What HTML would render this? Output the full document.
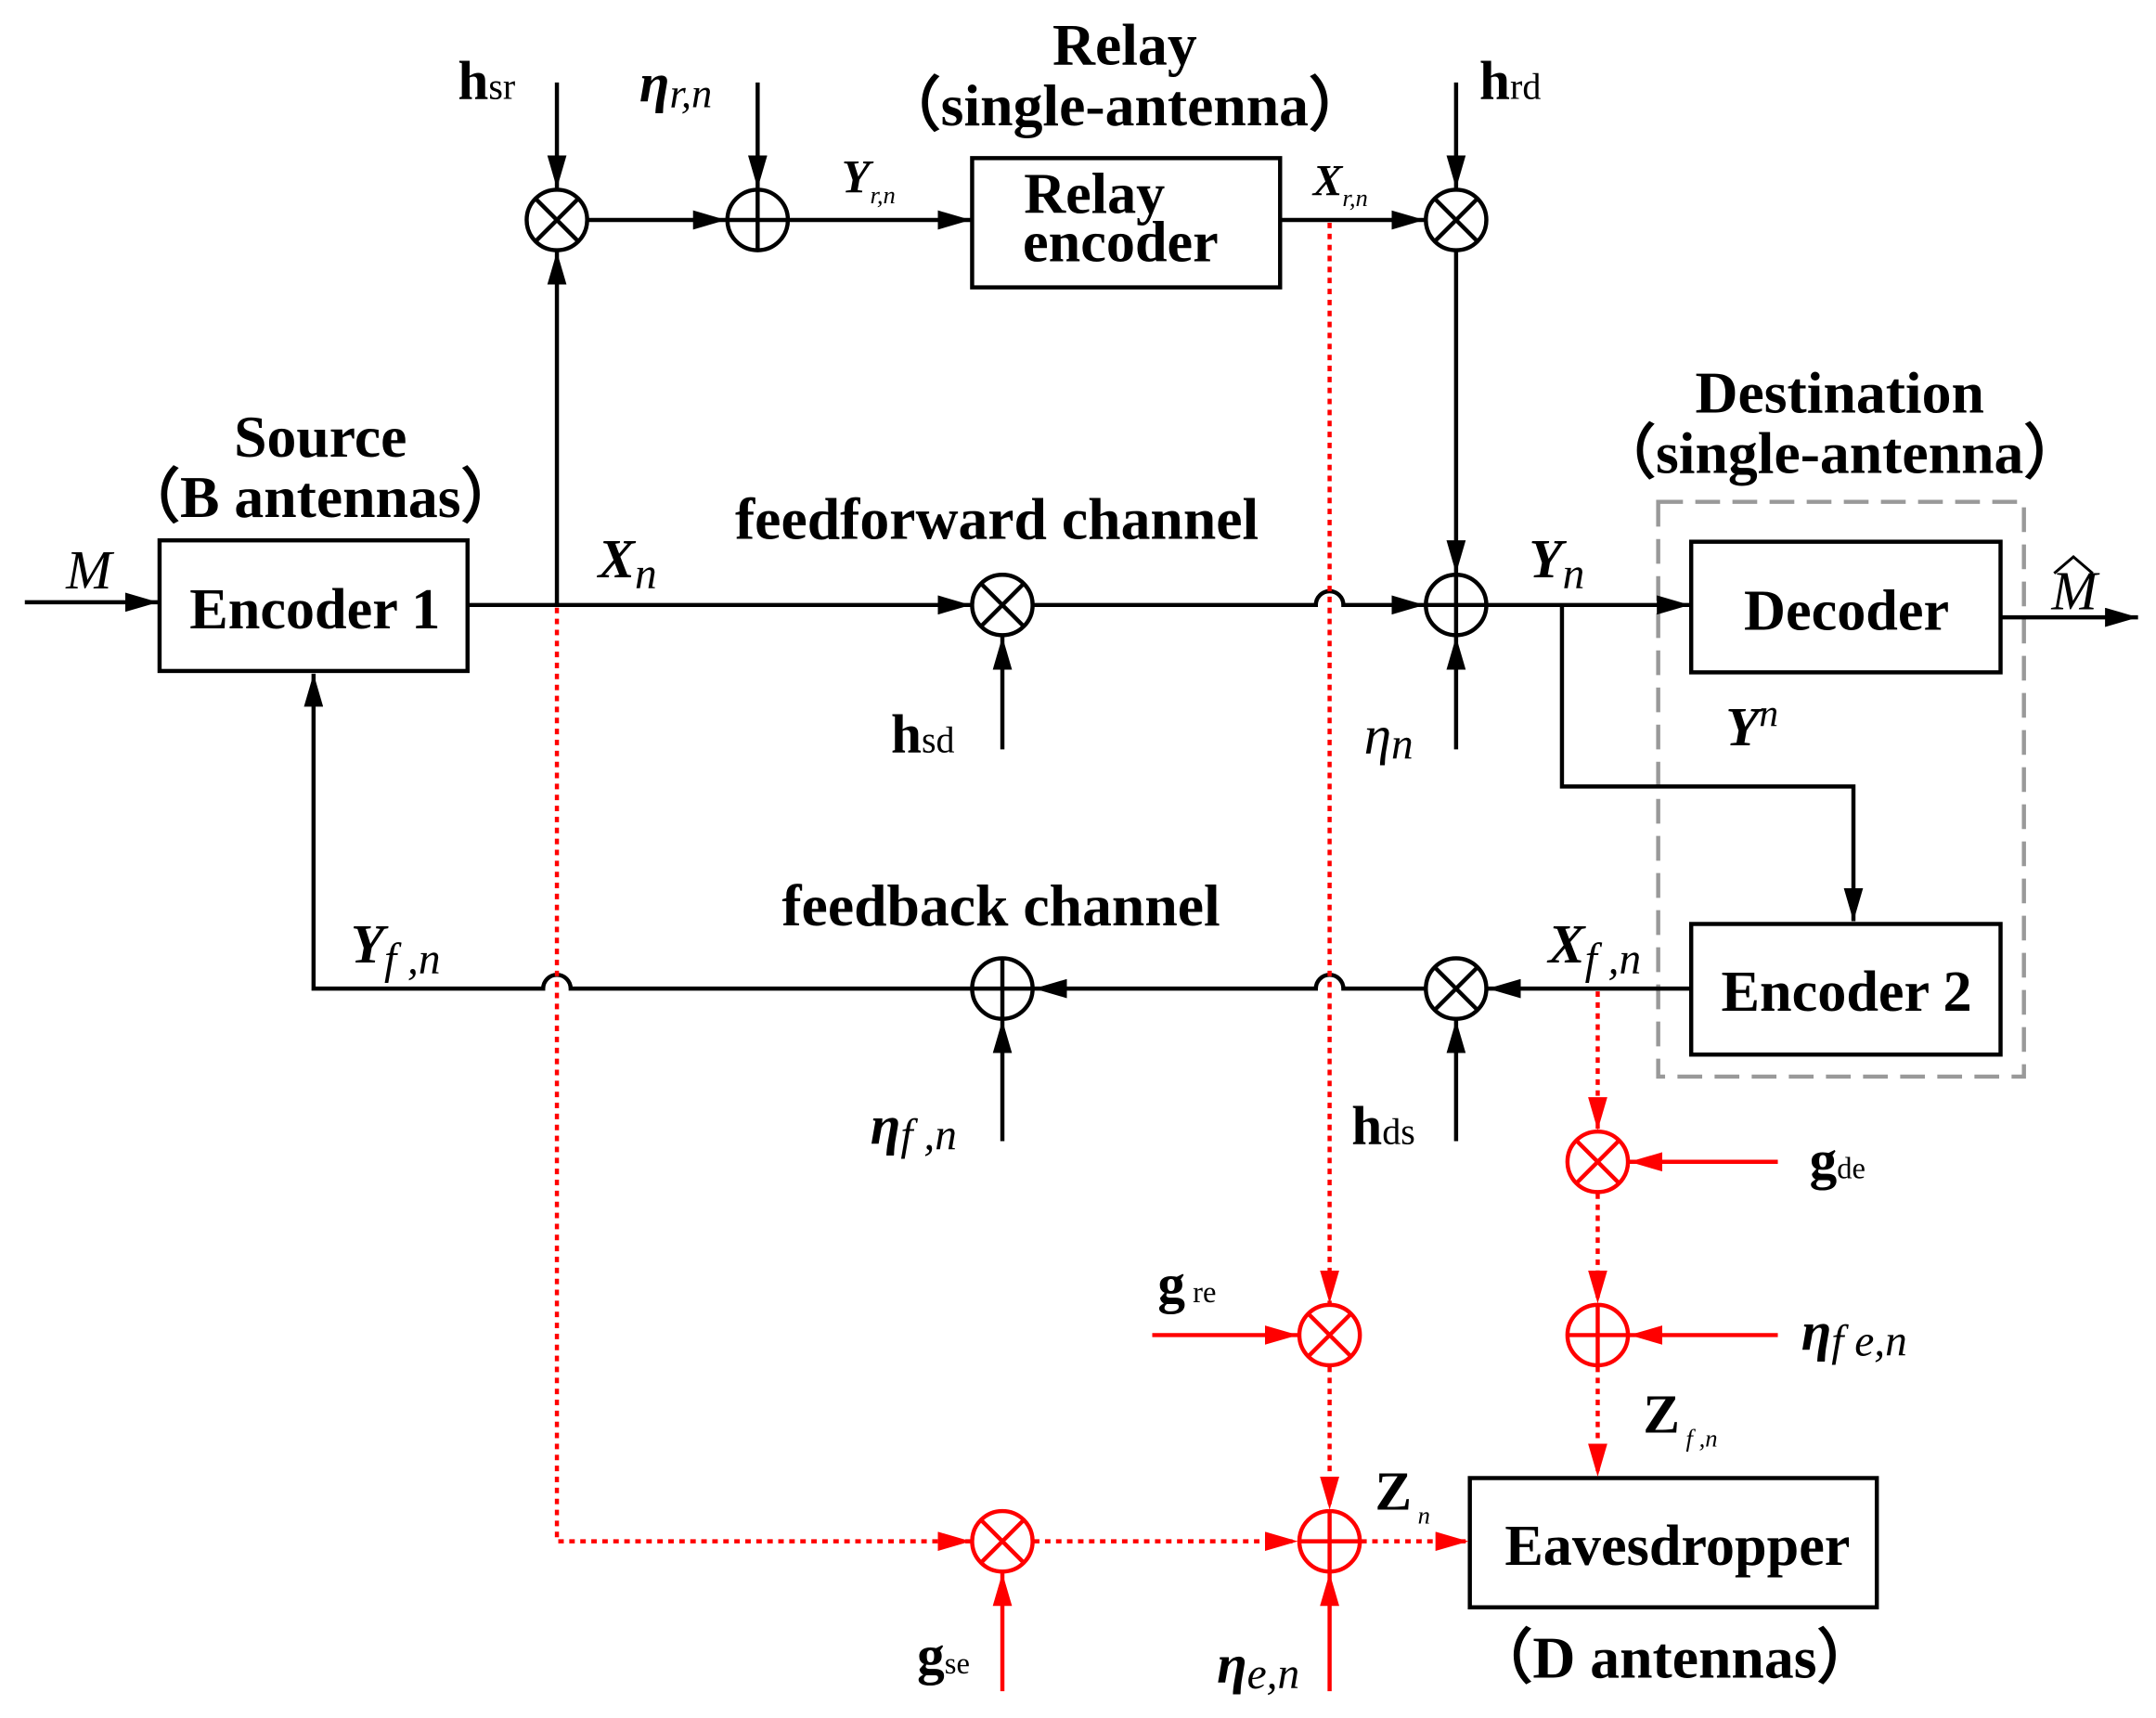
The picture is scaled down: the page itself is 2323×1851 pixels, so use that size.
<!DOCTYPE html>
<html><head><meta charset="utf-8"><style>
html,body{margin:0;padding:0;background:#fff;}
svg{display:block;font-family:"Liberation Serif",serif;font-weight:bold;}
text{fill:#000;}
</style></head><body>
<svg width="2323" height="1851" viewBox="0 0 1568 1249.5" xmlns="http://www.w3.org/2000/svg">
<defs>
<marker id="A" viewBox="0 0 24 14" refX="24" refY="7" markerWidth="24" markerHeight="14" orient="auto" markerUnits="userSpaceOnUse"><path d="M0,0 L24,7 L0,14 z" fill="#000"/></marker>
<marker id="R" viewBox="0 0 24 14" refX="24" refY="7" markerWidth="24" markerHeight="14" orient="auto" markerUnits="userSpaceOnUse"><path d="M0,0 L24,7 L0,14 z" fill="#f00"/></marker>
</defs>
<style>
.k{stroke:#000;stroke-width:3;fill:none;}
.kr{stroke:#f00;stroke-width:3;fill:none;}
.d{stroke:#f00;stroke-width:3;fill:none;stroke-dasharray:4,4;}
</style>

<!-- boxes -->
<rect x="116" y="393" width="224" height="95" class="k"/>
<rect x="707" y="115" width="224" height="94" class="k"/>
<rect x="1230" y="394" width="225" height="95" class="k"/>
<rect x="1230" y="672" width="225" height="95" class="k"/>
<rect x="1069" y="1075" width="296" height="94" class="k"/>
<rect x="1206" y="365" width="266" height="418" fill="none" stroke="#999" stroke-width="3" stroke-dasharray="18,9"/>

<!-- black connections -->
<line x1="18" y1="438" x2="115" y2="438" class="k" marker-end="url(#A)"/>
<line x1="340" y1="440" x2="706" y2="440" class="k" marker-end="url(#A)"/>
<line x1="405" y1="440" x2="405" y2="183" class="k" marker-end="url(#A)"/>
<line x1="405" y1="60" x2="405" y2="137" class="k" marker-end="url(#A)"/>
<line x1="428" y1="160" x2="528" y2="160" class="k" marker-end="url(#A)"/>
<line x1="551" y1="60" x2="551" y2="137" class="k" marker-end="url(#A)"/>
<line x1="574" y1="160" x2="706" y2="160" class="k" marker-end="url(#A)"/>
<line x1="931" y1="160" x2="1036" y2="160" class="k" marker-end="url(#A)"/>
<line x1="1059" y1="60" x2="1059" y2="137" class="k" marker-end="url(#A)"/>
<line x1="1059" y1="183" x2="1059" y2="417" class="k" marker-end="url(#A)"/>
<path d="M752,440 H957 a10,10 0 0 1 20,0 H1036" class="k" marker-end="url(#A)"/>
<line x1="729" y1="545" x2="729" y2="463" class="k" marker-end="url(#A)"/>
<line x1="1059" y1="545" x2="1059" y2="463" class="k" marker-end="url(#A)"/>
<line x1="1082" y1="440" x2="1229" y2="440" class="k" marker-end="url(#A)"/>
<line x1="1455" y1="449" x2="1555" y2="449" class="k" marker-end="url(#A)"/>
<path d="M1136,440 V572 H1348 V670" class="k" marker-end="url(#A)"/>
<line x1="1230" y1="719" x2="1082" y2="719" class="k" marker-end="url(#A)"/>
<line x1="1059" y1="830" x2="1059" y2="742" class="k" marker-end="url(#A)"/>
<path d="M1036,719 H977 a10,10 0 0 0 -20,0 H752" class="k" marker-end="url(#A)"/>
<line x1="729" y1="830" x2="729" y2="742" class="k" marker-end="url(#A)"/>
<path d="M706,719 H415 a10,10 0 0 0 -20,0 H228 V490" class="k" marker-end="url(#A)"/>

<!-- black circles -->
<g class="k">
<circle cx="405" cy="160" r="22" fill="#fff"/><path d="M389.4,144.4 L420.6,175.6 M420.6,144.4 L389.4,175.6"/>
<circle cx="551" cy="160" r="22" fill="#fff"/><path d="M529,160 H573 M551,138 V182"/>
<circle cx="1059" cy="160" r="22" fill="#fff"/><path d="M1043.4,144.4 L1074.6,175.6 M1074.6,144.4 L1043.4,175.6"/>
<circle cx="729" cy="440" r="22" fill="#fff"/><path d="M713.4,424.4 L744.6,455.6 M744.6,424.4 L713.4,455.6"/>
<circle cx="1059" cy="440" r="22" fill="#fff"/><path d="M1037,440 H1081 M1059,418 V462"/>
<circle cx="1059" cy="719" r="22" fill="#fff"/><path d="M1043.4,703.4 L1074.6,734.6 M1074.6,703.4 L1043.4,734.6"/>
<circle cx="729" cy="719" r="22" fill="#fff"/><path d="M707,719 H751 M729,697 V741"/>
</g>

<!-- red -->
<line x1="967" y1="162" x2="967" y2="948" class="d" marker-end="url(#R)"/>
<line x1="838" y1="971" x2="944" y2="971" class="kr" marker-end="url(#R)"/>
<line x1="967" y1="994" x2="967" y2="1098" class="d" marker-end="url(#R)"/>
<path d="M405,442 V1121 H706" class="d" marker-end="url(#R)"/>
<line x1="729" y1="1230" x2="729" y2="1144" class="kr" marker-end="url(#R)"/>
<line x1="752" y1="1121" x2="944" y2="1121" class="d" marker-end="url(#R)"/>
<line x1="967" y1="1230" x2="967" y2="1144" class="kr" marker-end="url(#R)"/>
<line x1="990" y1="1121" x2="1068" y2="1121" class="d" marker-end="url(#R)"/>
<line x1="1162" y1="721" x2="1162" y2="822" class="d" marker-end="url(#R)"/>
<line x1="1293" y1="845" x2="1185" y2="845" class="kr" marker-end="url(#R)"/>
<line x1="1162" y1="868" x2="1162" y2="948" class="d" marker-end="url(#R)"/>
<line x1="1293" y1="971" x2="1185" y2="971" class="kr" marker-end="url(#R)"/>
<line x1="1162" y1="994" x2="1162" y2="1074" class="d" marker-end="url(#R)"/>
<g class="kr">
<circle cx="967" cy="971" r="22" fill="#fff"/><path d="M951.4,955.4 L982.6,986.6 M982.6,955.4 L951.4,986.6"/>
<circle cx="729" cy="1121" r="22" fill="#fff"/><path d="M713.4,1105.4 L744.6,1136.6 M744.6,1105.4 L713.4,1136.6"/>
<circle cx="967" cy="1121" r="22" fill="#fff"/><path d="M945,1121 H989 M967,1099 V1143"/>
<circle cx="1162" cy="845" r="22" fill="#fff"/><path d="M1146.4,829.4 L1177.6,860.6 M1177.6,829.4 L1146.4,860.6"/>
<circle cx="1162" cy="971" r="22" fill="#fff"/><path d="M1140,971 H1184 M1162,949 V993"/>
</g>

<!-- text -->
<g font-size="42" text-anchor="middle">
<text x="229" y="457">Encoder 1</text>
<text x="1343" y="458">Decoder</text>
<text x="1343" y="735">Encoder 2</text>
<text x="1220" y="1138">Eavesdropper</text>
<text x="796" y="155">Relay</text>
<text x="815" y="190">encoder</text>
</g>
<g font-size="43" text-anchor="middle">
<text x="818" y="47">Relay</text>
<text x="818" y="91">（single-antenna）</text>
<text x="233" y="332">Source</text>
<text x="233" y="376">（B antennas）</text>
<text x="1338" y="300">Destination</text>
<text x="1338" y="344">（single-antenna）</text>
<text x="725" y="392">feedforward channel</text>
<text x="728" y="673">feedback channel</text>
<text x="1218" y="1220">（D antennas）</text>
</g>
<!-- labels -->
<g font-size="40">
<text x="48" y="428" font-style="italic" font-weight="normal">M</text>
<text x="1492" y="443" font-style="italic" font-weight="normal">M</text>
<path d="M1494,417 L1508,405 L1522,417" stroke="#000" stroke-width="2" fill="none"/>
<text x="333" y="72">h<tspan font-size="27" font-weight="normal">sr</tspan></text>
<text x="1076" y="72">h<tspan font-size="27" font-weight="normal">rd</tspan></text>
<text x="465" y="74" font-style="italic">η<tspan font-size="30" dy="4" font-weight="normal">r,n</tspan></text>
<text x="612" y="140" font-style="italic" font-size="34">Y<tspan font-size="18" dy="8" font-weight="normal">r,n</tspan></text>
<text x="955" y="142" font-style="italic" font-size="32">X<tspan font-size="18" dy="8" font-weight="normal">r,n</tspan></text>
<text x="435" y="420" font-style="italic">X<tspan font-size="32" dy="8" font-weight="normal">n</tspan></text>
<text x="648" y="547">h<tspan font-size="27" font-weight="normal">sd</tspan></text>
<text x="992" y="548" font-style="italic" font-weight="normal">η<tspan font-size="32" dy="4">n</tspan></text>
<text x="1112" y="420" font-style="italic">Y<tspan font-size="32" dy="8" font-weight="normal">n</tspan></text>
<text x="1255" y="542" font-style="italic">Y<tspan font-size="28" dy="-14" font-weight="normal">n</tspan></text>
<text x="1126" y="700" font-style="italic">X<tspan font-size="32" dy="8" font-weight="normal">f ,n</tspan></text>
<text x="255" y="700" font-style="italic">Y<tspan font-size="32" dy="8" font-weight="normal">f ,n</tspan></text>
<text x="633" y="832" font-style="italic">η<tspan font-size="32" dy="4" font-weight="normal">f ,n</tspan></text>
<text x="983" y="832">h<tspan font-size="27" font-weight="normal">ds</tspan></text>
<text x="1316" y="857">g<tspan font-size="22" font-weight="normal">de</tspan></text>
<text x="842" y="947">g<tspan font-size="22" font-weight="normal"> re</tspan></text>
<text x="1310" y="982" font-style="italic">η<tspan font-size="32" dy="4" font-weight="normal">f e,n</tspan></text>
<text x="1195" y="1042">Z<tspan font-size="18" font-style="italic" font-weight="normal" dy="10"> f ,n</tspan></text>
<text x="1000" y="1098">Z<tspan font-size="18" font-style="italic" font-weight="normal" dy="10"> n</tspan></text>
<text x="667" y="1217">g<tspan font-size="22" font-weight="normal">se</tspan></text>
<text x="885" y="1224" font-style="italic">η<tspan font-size="32" dy="4" font-weight="normal">e,n</tspan></text>
</g>
</svg>
</body></html>
